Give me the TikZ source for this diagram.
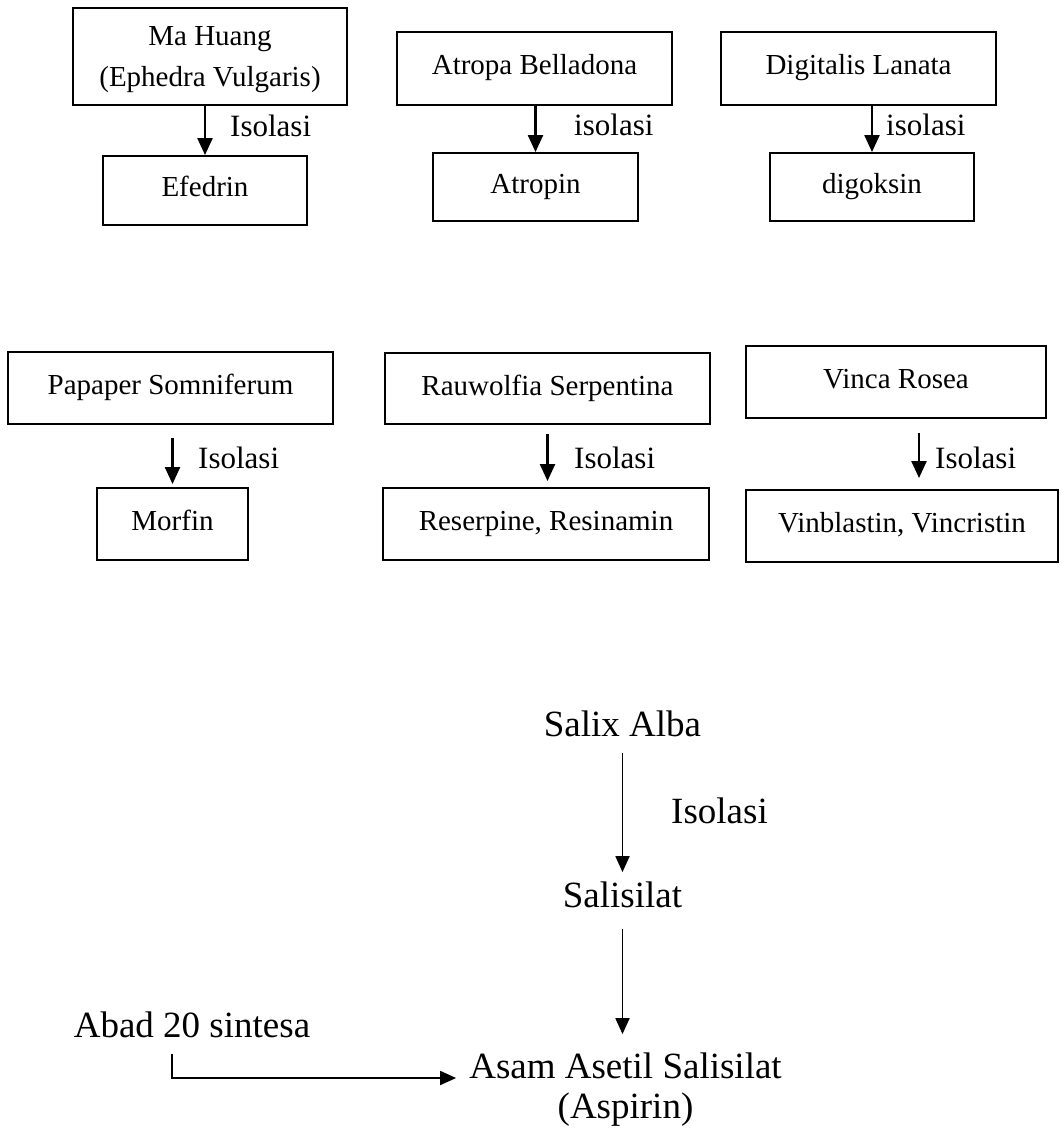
\documentclass[tikz,border=0pt]{standalone}
\usepackage{fontspec}
\setmainfont{Liberation Serif}
\usetikzlibrary{calc, arrows.meta, positioning}

\begin{document}
\begin{tikzpicture}[x=1pt, y=-1pt,
    box/.style={rectangle, draw, line width=1.9pt, inner sep=0pt, align=center, font=\fontsize{29}{41}\selectfont},
    linebox/.style={box, text height=20pt, text depth=7pt},
    lbl/.style={inner sep=0pt, anchor=base west, font=\fontsize{31}{36}\selectfont},
    big/.style={inner sep=0pt, anchor=base, font=\fontsize{37}{42}\selectfont},
    arr/.style={-{Triangle[length=17pt, width=15pt]}, line width=2.3pt},
    thinarr/.style={-{Triangle[length=16pt, width=14pt]}, line width=1.8pt}]
        \useasboundingbox (0,0) rectangle (1061,1131);

        % first row
        \node[box, minimum width=274pt, minimum height=97pt, text depth=0pt] (mahuang) at (210,56.5) {Ma Huang\\(Ephedra Vulgaris)};
        \node[linebox, minimum width=204pt, minimum height=69pt] (efedrin) at (205,190.5) {Efedrin};
        \node[linebox, minimum width=275pt, minimum height=73pt] (atropa) at (534.5,68.5) {Atropa Belladona};
        \node[linebox, minimum width=205pt, minimum height=68pt] (atropin) at (535.5,187) {Atropin};
        \node[linebox, minimum width=275pt, minimum height=73pt] (digitalis) at (858.5,68.5) {Digitalis Lanata};
        \node[linebox, minimum width=204pt, minimum height=68pt] (digoksin) at (872,187) {digoksin};

        \draw[arr] (efedrin.north |- mahuang.south) -- (efedrin.north);
        \draw[arr] (atropin.north |- atropa.south) -- (atropin.north);
        \draw[arr] (digoksin.north |- digitalis.south) -- (digoksin.north);

        \node[lbl] (iso1) at (230,137) {Isolasi};
        \node[lbl] (iso2) at (574,136) {isolasi};
        \node[lbl] (iso3) at (886,136) {isolasi};

        % second row
        \node[linebox, minimum width=325pt, minimum height=72pt] (papaver) at (170.5,388) {Papaper Somniferum};
        \node[linebox, minimum width=151pt, minimum height=72pt] (morfin) at (172.5,524) {Morfin};
        \node[linebox, minimum width=325pt, minimum height=71pt] (rauwolfia) at (547.5,388.5) {Rauwolfia Serpentina};
        \node[linebox, minimum width=326pt, minimum height=72pt] (reserpin) at (546,524) {Reserpine, Resinamin};
        \node[linebox, minimum width=300pt, minimum height=72pt] (vinca) at (896,382) {Vinca Rosea};
        \node[linebox, minimum width=312pt, minimum height=72pt] (vinblastin) at (902,526) {Vinblastin, Vincristin};

        \draw[arr, shorten <=13pt, shorten >=3pt] (morfin.north |- papaver.south) -- (morfin.north);
        \draw[arr, shorten <=9pt, shorten >=6pt] (rauwolfia.south) -- (rauwolfia.south |- reserpin.north);
        \draw[arr, shorten <=14pt, shorten >=11pt] ($(vinca.south)+(23,0)$) -- ($(vinca.south |- vinblastin.north)+(23,0)$);

        \node[lbl] (iso4) at (198,468) {Isolasi};
        \node[lbl] (iso5) at (574,468) {Isolasi};
        \node[lbl] (iso6) at (935,468) {Isolasi};

        % salix alba
        \node[big] (salix) at (622.5,736) {Salix Alba};
        \node[big] (iso7) at (719.5,823) {Isolasi};
        \node[big] (salisilat) at (622.5,907) {Salisilat};
        \node[big] (asam) at (625.5,1078) {Asam Asetil Salisilat};
        \node[big] (aspirin) at (625.5,1118) {(Aspirin)};
        \node[big] (abad) at (192,1037) {Abad 20 sintesa};

        \draw[thinarr, shorten <=16pt, shorten >=9pt] (salix) -- (salisilat);
        \draw[thinarr, shorten <=21pt, shorten >=18pt] (salisilat) -- (salisilat |- asam.north);
        \draw[thinarr] ($(abad.south)+(-20,16)$) |- ($(asam.base west)+(-13,0)$);
\end{tikzpicture}
\end{document}
